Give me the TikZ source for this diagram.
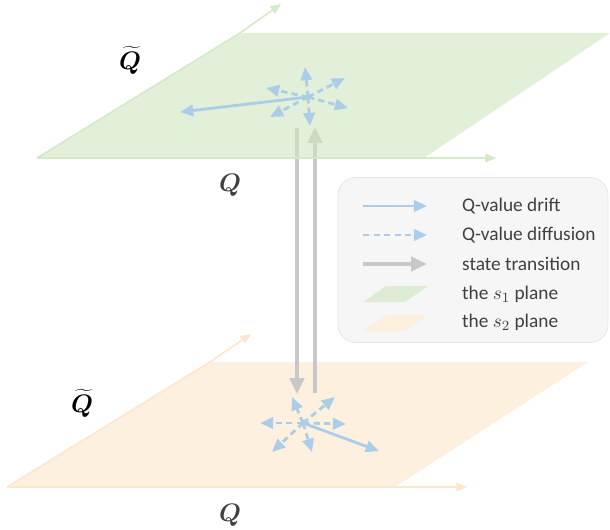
\documentclass[tikz,border=0pt]{standalone}
\usepackage{fontspec}
\setsansfont{Carlito}
\usepackage{bm}
\usepackage{xcolor}
\usetikzlibrary{arrows.meta,positioning,calc}
\definecolor{planegreen}{RGB}{207,230,192}
\definecolor{edgegreen}{RGB}{212,233,200}
\definecolor{planeorange}{RGB}{254,240,223}
\definecolor{edgeorange}{RGB}{252,231,206}
\definecolor{driftblue}{RGB}{172,205,232}
\definecolor{dotblue}{RGB}{118,168,220}
\definecolor{transgray}{RGB}{200,200,200}
\definecolor{legendbg}{RGB}{246,246,246}
\definecolor{legendedge}{RGB}{230,230,230}
\definecolor{labelgray}{RGB}{64,64,64}

\begin{document}
\begin{tikzpicture}[
    x=0.02cm, y=-0.02cm,
    drift/.style={draw=driftblue, line width=1.6pt, -{Triangle[length=7.5pt, width=6.5pt]}},
    diffuse/.style={drift, dash pattern=on 3.6pt off 2.4pt},
    trans/.style={draw=transgray, line width=2.6pt, -{Triangle[length=9pt, width=8pt]}},
    axisgreen/.style={draw=edgegreen, line width=0.9pt, -{Triangle[length=6pt, width=5pt]}},
    axisorange/.style={draw=edgeorange, line width=0.9pt, -{Triangle[length=6pt, width=5pt]}},
    centre/.style={circle, fill=dotblue, inner sep=1.1pt},
    axislabel/.style={font=\Large},
    legendbox/.style={rectangle, rounded corners=10pt, draw=legendedge, fill=legendbg, minimum width=5.4cm, minimum height=3.3cm},
    legtext/.style={anchor=west, text=labelgray, font=\fontsize{11}{13}\selectfont\sffamily}
]
\useasboundingbox (0,0) rectangle (610,529);

% Lower plane (s2)
\coordinate (oA) at (7,487);
\coordinate (oB) at (395,487);
\coordinate (oC) at (588,362);
\coordinate (oD) at (210,362);
\coordinate (oBx) at (467,487);
\coordinate (oDx) at (251,334);
\fill[planeorange] (oA) -- (oB) -- (oC) -- (oD) -- cycle;
\draw[axisorange] (oA) -- (oB) -- (oBx);
\draw[axisorange] (oA) -- (oD) -- (oDx);

% State transitions
\coordinate (tA) at (297,128);
\coordinate (tB) at (297,394);
\coordinate (uA) at (315,393);
\coordinate (uB) at (315,127);
\draw[trans] (tA) -- (tB);
\draw[trans] (uA) -- (uB);

% Upper plane (s1)
\coordinate (gA) at (37,158);
\coordinate (gB) at (424,158);
\coordinate (gC) at (610,33);
\coordinate (gD) at (240,33);
\coordinate (gBx) at (496,158);
\coordinate (gDx) at (281,4);
\fill[planegreen, opacity=0.6] (gA) -- (gB) -- (gC) -- (gD) -- cycle;
\draw[axisgreen] (gA) -- (gB) -- (gBx);
\draw[axisgreen] (gA) -- (gD) -- (gDx);

% Axis labels
\node[axislabel] (qt1) at (130,60) {$\widetilde{\bm{Q}}$};
\node[axislabel, text=labelgray] (q1) at (230,185) {$\bm{Q}$};
\node[axislabel] (qt2) at (82,403) {$\widetilde{\bm{Q}}$};
\node[axislabel, text=labelgray] (q2) at (230,515) {$\bm{Q}$};

% Drift and diffusion on s1
\node[centre] (gc) at (308,97) {};
\coordinate (gd) at (180,112);
\coordinate (gf1) at (305,67);
\coordinate (gf2) at (345,78);
\coordinate (gf3) at (348,108);
\coordinate (gf4) at (310,126);
\coordinate (gf5) at (270,117);
\coordinate (gf6) at (266,88);
\draw[drift] (gc.center) -- (gd);
\draw[diffuse] (gc.center) -- (gf1);
\draw[diffuse] (gc.center) -- (gf2);
\draw[diffuse] (gc.center) -- (gf3);
\draw[diffuse] (gc.center) -- (gf4);
\draw[diffuse] (gc.center) -- (gf5);
\draw[diffuse] (gc.center) -- (gf6);

% Drift and diffusion on s2
\node[centre] (oc) at (303,423) {};
\coordinate (od) at (379,451);
\coordinate (of1) at (292,397);
\coordinate (of2) at (335,397);
\coordinate (of3) at (346,424);
\coordinate (of4) at (312,452);
\coordinate (of5) at (272,452);
\coordinate (of6) at (260,423);
\draw[drift] (oc.center) -- (od);
\draw[diffuse] (oc.center) -- (of1);
\draw[diffuse] (oc.center) -- (of2);
\draw[diffuse] (oc.center) -- (of3);
\draw[diffuse] (oc.center) -- (of4);
\draw[diffuse] (oc.center) -- (of5);
\draw[diffuse] (oc.center) -- (of6);

% Legend
\node[legendbox] (legend) at (473,260) {};
\node[legtext] (t1) at (456,206) {Q-value drift};
\node[legtext] (t2) at (456,235) {Q-value diffusion};
\node[legtext] (t3) at (456,264) {state transition};
\node[legtext] (t4) at (456,294) {the $s_1$ plane};
\node[legtext] (t5) at (456,322) {the $s_2$ plane};
\coordinate (k1a) at (363,206);
\coordinate (k1b) at (427,206);
\coordinate (k2a) at (363,235);
\coordinate (k2b) at (427,235);
\coordinate (k3a) at (363,264);
\coordinate (k3b) at (427,264);
\draw[drift] (k1a) -- (k1b);
\draw[diffuse] (k2a) -- (k2b);
\draw[trans] (k3a) -- (k3b);
\fill[planegreen, opacity=0.6] (363,302) -- (405,302) -- (428,286) -- (386,286) -- cycle;
\fill[planeorange] (363,331) -- (405,331) -- (428,315) -- (386,315) -- cycle;

\end{tikzpicture}
\end{document}
